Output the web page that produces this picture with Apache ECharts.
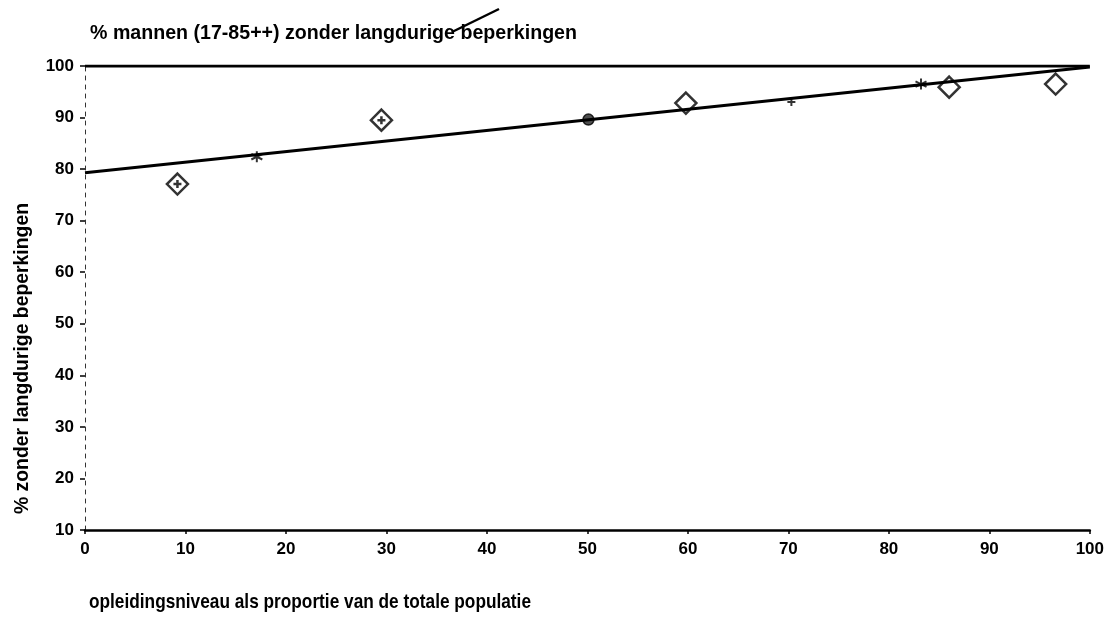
<!DOCTYPE html>
<html>
<head>
<meta charset="utf-8">
<script src="https://cdn.jsdelivr.net/npm/echarts@6/dist/echarts.min.js"></script>
<style>
  html, body { margin: 0; padding: 0; background: #fff; }
  #chart { width: 1107px; height: 629px; }
</style>
</head>
<body>
<div id="chart"></div>
<script>
// Education level (cumulative share of population) vs % men without long-term limitations
var FONT = '"Liberation Sans", Arial, sans-serif';

var titleText = '% mannen (17-85++) zonder langdurige beperkingen';
var xAxisTitle = 'opleidingsniveau als proportie van de totale populatie';
var yAxisTitle = '% zonder langdurige beperkingen';

var xTicks = [0, 10, 20, 30, 40, 50, 60, 70, 80, 90, 100];
var yTicks = [10, 20, 30, 40, 50, 60, 70, 80, 90, 100];

// observed group values (open diamonds)
var groupX = [9.2, 29.5, 59.8, 86.0, 96.6];
var groupY = [77.1, 89.5, 92.8, 95.9, 96.5];
// groups drawn with a cross inside the diamond
var crossX = [9.2, 29.5];
var crossY = [77.1, 89.5];
// population mean
var meanX = [50.1];
var meanY = [89.6];
// points on the fitted line
var starX = [17.1, 83.2];
var starY = [82.4, 96.5];
var plusX = [70.3];
var plusY = [93.0];
// fitted line and 100% reference
var fitX = [0, 100];
var fitY = [79.3, 99.8];
var refX = [0, 100];
var refY = [100, 100];

function pairs(xs, ys) { return xs.map(function (x, i) { return [x, ys[i]]; }); }

// condensed heading text: squeeze a bold face horizontally to a given run length
var measureCtx = document.createElement('canvas').getContext('2d');
function squeeze(text, size, width) {
  measureCtx.font = 'bold ' + size + 'px ' + FONT;
  return width / measureCtx.measureText(text).width;
}

var starPath = 'path://M0,-10L0,10M-9,-5L9,5M-9,5L9,-5';
var plusPath = 'path://M0,-10L0,10M-10,0L10,0';

var headStyle = { fontFamily: FONT, fontSize: 21, fontWeight: 'bold', fill: '#000' };

var chart = echarts.init(document.getElementById('chart'));
chart.setOption({
  animation: false,
  backgroundColor: '#fff',
  textStyle: { fontFamily: FONT },
  grid: { left: 85, right: 17, top: 66, bottom: 99 },
  xAxis: {
    type: 'value', min: 0, max: 100, interval: 10,
    splitLine: { show: false },
    axisLine: { show: true, onZero: false, lineStyle: { color: '#000', width: 2.5 } },
    axisTick: { show: true, length: 4, lineStyle: { color: '#000', width: 1.5 } },
    axisLabel: { margin: 11, fontFamily: FONT, fontSize: 17, fontWeight: 'bold', color: '#000',
      formatter: function (v) { return xTicks.indexOf(v) >= 0 ? String(v) : ''; } }
  },
  yAxis: {
    type: 'value', min: 10, max: 100, interval: 10,
    splitLine: { show: false },
    axisLine: { show: true, onZero: false, lineStyle: { color: '#333', width: 1, type: [4, 5] } },
    axisTick: { show: true, length: 5, lineStyle: { color: '#000', width: 1.5 } },
    axisLabel: { margin: 11, fontFamily: FONT, fontSize: 17, fontWeight: 'bold', color: '#000',
      formatter: function (v) { return yTicks.indexOf(v) >= 0 ? String(v) : ''; } }
  },
  graphic: [
    { type: 'text', x: 90, y: 23, scaleX: squeeze(titleText, 21, 487),
      style: Object.assign({ text: titleText }, headStyle) },
    { type: 'text', x: 89, y: 592, scaleX: squeeze(xAxisTitle, 21, 442),
      style: Object.assign({ text: xAxisTitle }, headStyle) },
    { type: 'text', x: 12, y: 514, rotation: Math.PI / 2, scaleX: squeeze(yAxisTitle, 21, 311),
      style: Object.assign({ text: yAxisTitle }, headStyle) },
    { type: 'line', shape: { x1: 452, y1: 32, x2: 499, y2: 9 },
      style: { stroke: '#000', lineWidth: 2.5 } }
  ],
  series: [
    { type: 'line', data: pairs(refX, refY), symbol: 'none',
      lineStyle: { color: '#000', width: 3 } },
    { type: 'line', data: pairs(fitX, fitY), symbol: 'none',
      lineStyle: { color: '#000', width: 3 } },
    { type: 'scatter', data: pairs(groupX, groupY), symbol: 'diamond', symbolSize: [21, 21],
      itemStyle: { color: '#fff', borderColor: '#000', borderWidth: 2.5 } },
    { type: 'scatter', data: pairs(crossX, crossY), symbol: plusPath, symbolSize: 8,
      itemStyle: { color: 'none', borderColor: '#000', borderWidth: 2.5 } },
    { type: 'scatter', data: pairs(meanX, meanY), symbol: 'circle', symbolSize: 11,
      itemStyle: { color: '#222', borderColor: '#000', borderWidth: 1.5 } },
    { type: 'scatter', data: pairs(starX, starY), symbol: starPath, symbolSize: 11,
      itemStyle: { color: 'none', borderColor: '#000', borderWidth: 2 } },
    { type: 'scatter', data: pairs(plusX, plusY), symbol: plusPath, symbolSize: 8,
      itemStyle: { color: 'none', borderColor: '#000', borderWidth: 2 } }
  ]
});
</script>
</body>
</html>
